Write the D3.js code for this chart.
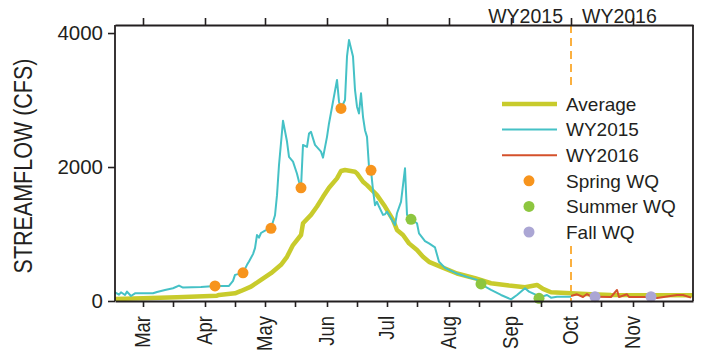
<!DOCTYPE html>
<html>
<head>
<meta charset="utf-8">
<script src="https://cdn.jsdelivr.net/npm/d3@7"></script>
<style>
body { margin: 0; background: #fff; }
svg { display: block; font-family: "Liberation Sans", Arial, sans-serif; }
</style>
</head>
<body>
<div id="gr"></div>
<script>
// daily streamflow (cfs)
var avgFlow = [
  ["2015-02-15", 30], ["2015-03-01", 40], ["2015-03-18", 55], ["2015-04-07", 80],
  ["2015-04-08", 90], ["2015-04-16", 115], ["2015-04-19", 150], ["2015-04-24", 215],
  ["2015-04-29", 315], ["2015-05-04", 415], ["2015-05-09", 540], ["2015-05-12", 660],
  ["2015-05-15", 835], ["2015-05-19", 985], ["2015-05-20", 1160], ["2015-05-24", 1285],
  ["2015-05-27", 1410], ["2015-05-30", 1555], ["2015-06-02", 1690], ["2015-06-06", 1830],
  ["2015-06-08", 1940], ["2015-06-10", 1955], ["2015-06-15", 1930], ["2015-06-16", 1905],
  ["2015-06-19", 1780], ["2015-06-21", 1730], ["2015-06-26", 1580], ["2015-06-30", 1410],
  ["2015-07-04", 1210], ["2015-07-06", 1060], ["2015-07-09", 985], ["2015-07-12", 860],
  ["2015-07-16", 760], ["2015-07-19", 660], ["2015-07-22", 585], ["2015-07-28", 510],
  ["2015-08-05", 410], ["2015-08-14", 340], ["2015-08-22", 265], ["2015-08-31", 230],
  ["2015-09-08", 205], ["2015-09-14", 240], ["2015-09-17", 180], ["2015-09-21", 130],
  ["2015-10-01", 115], ["2015-10-11", 100], ["2015-10-21", 90], ["2015-12-01", 85]
];

var wy2015 = [
  ["2015-02-15", 130], ["2015-02-17", 95], ["2015-02-18", 130], ["2015-02-20", 90],
  ["2015-02-21", 140], ["2015-02-23", 75], ["2015-02-25", 115], ["2015-03-06", 115],
  ["2015-03-08", 135], ["2015-03-12", 165], ["2015-03-16", 190], ["2015-03-19", 230],
  ["2015-03-21", 200], ["2015-03-30", 210], ["2015-04-06", 225], ["2015-04-13", 225],
  ["2015-04-15", 300], ["2015-04-16", 390], ["2015-04-20", 420], ["2015-04-22", 540],
  ["2015-04-23", 590], ["2015-04-25", 700], ["2015-04-26", 790], ["2015-04-27", 985],
  ["2015-04-28", 945], ["2015-04-29", 1015], ["2015-05-01", 1050], ["2015-05-04", 1085],
  ["2015-05-06", 1280], ["2015-05-07", 1580], ["2015-05-08", 2030], ["2015-05-10", 2690],
  ["2015-05-12", 2380], ["2015-05-13", 2150], ["2015-05-15", 2080], ["2015-05-17", 1900],
  ["2015-05-18", 1780], ["2015-05-19", 1690], ["2015-05-20", 2330], ["2015-05-22", 2300],
  ["2015-05-23", 2500], ["2015-05-24", 2525], ["2015-05-26", 2330], ["2015-05-29", 2230],
  ["2015-05-30", 2140], ["2015-06-01", 2450], ["2015-06-02", 2650], ["2015-06-04", 2975],
  ["2015-06-06", 3300], ["2015-06-07", 2975], ["2015-06-08", 2875], ["2015-06-10", 3000],
  ["2015-06-11", 3650], ["2015-06-12", 3895], ["2015-06-14", 3650], ["2015-06-15", 3150],
  ["2015-06-16", 2900], ["2015-06-17", 2800], ["2015-06-18", 3100], ["2015-06-19", 2750],
  ["2015-06-20", 2550], ["2015-06-21", 2450], ["2015-06-22", 2000], ["2015-06-23", 1950],
  ["2015-06-24", 1655], ["2015-06-25", 1430], ["2015-06-26", 1480], ["2015-06-27", 1410],
  ["2015-06-29", 1285], ["2015-06-30", 1295], ["2015-07-01", 1335], ["2015-07-03", 1235],
  ["2015-07-05", 1135], ["2015-07-06", 1310], ["2015-07-08", 1480], ["2015-07-10", 1980],
  ["2015-07-11", 1285], ["2015-07-13", 1220], ["2015-07-16", 1160], ["2015-07-17", 1010],
  ["2015-07-20", 895], ["2015-07-22", 860], ["2015-07-25", 800], ["2015-07-27", 585],
  ["2015-07-30", 495], ["2015-08-05", 410], ["2015-08-10", 360], ["2015-08-15", 315],
  ["2015-08-17", 250], ["2015-08-22", 165], ["2015-08-27", 90], ["2015-09-01", 25],
  ["2015-09-04", 90], ["2015-09-08", 190], ["2015-09-10", 140], ["2015-09-13", 100],
  ["2015-09-15", 50], ["2015-09-19", 90], ["2015-09-21", 50], ["2015-09-24", 65],
  ["2015-10-01", 65]
];

var wy2016 = [
  ["2015-10-01", 75], ["2015-10-04", 100], ["2015-10-07", 60], ["2015-10-09", 105],
  ["2015-10-11", 65], ["2015-10-13", 65], ["2015-10-21", 60], ["2015-10-24", 165],
  ["2015-10-25", 60], ["2015-10-29", 100], ["2015-10-30", 60], ["2015-11-10", 60],
  ["2015-11-13", 45], ["2015-11-23", 90], ["2015-11-26", 90], ["2015-11-30", 50]
];

var springWQ = [["2015-04-06", 225], ["2015-04-20", 420], ["2015-05-04", 1085],
  ["2015-05-19", 1690], ["2015-06-08", 2875], ["2015-06-23", 1950]];
var summerWQ = [["2015-07-13", 1220], ["2015-08-17", 255], ["2015-09-15", 40]];
var fallWQ = [["2015-10-13", 65], ["2015-11-10", 65]];

var yTicks = [0, 2000, 4000];
var legendLabels = ["Average", "WY2015", "WY2016", "Spring WQ", "Summer WQ", "Fall WQ"];

var ink = "#231f20";
var colAvg = "#c8cb2c", col15 = "#45c1c6", col16 = "#d4512b";
var colSpring = "#f7941d", colSummer = "#8dc63f", colFall = "#aba6d4";

var margin = { left: 115, top: 25, right: 9, bottom: 50 };
var width = 578, height = 276;

var parse = d3.timeParse("%Y-%m-%d");

var svg = d3.select("#gr").append("svg").
attr("width", 702).
attr("height", 351);

var g = svg.append("g").
attr("transform", "translate(" + margin.left + "," + margin.top + ")");

var xScale = d3.scaleTime().
domain([parse("2015-02-15"), parse("2015-12-01")]).
range([0, width]);

var yScale = d3.scaleLinear().domain([0, 4120]).range([height, 0]);

var months = d3.timeMonth.range(parse("2015-03-01"), parse("2015-12-01"));
var midMonths = months.map(function (m) {return d3.timeDay.offset(m, 15);});

var line = d3.line().
x(function (d) {return xScale(parse(d[0]));}).
y(function (d) {return yScale(d[1]);});

// water year split
var oct1 = xScale(parse("2015-10-01"));
g.append("line").
attr("x1", oct1).attr("x2", oct1).
attr("y1", 0).attr("y2", height).
attr("stroke", "#fbb040").
attr("stroke-width", 2).
attr("stroke-dasharray", "8,5");

g.append("path").datum(avgFlow).
attr("d", line).
attr("fill", "none").
attr("stroke", colAvg).
attr("stroke-width", 4.5).
attr("stroke-linejoin", "round");

g.append("path").datum(wy2015).
attr("d", line).
attr("fill", "none").
attr("stroke", col15).
attr("stroke-width", 2).
attr("stroke-linejoin", "round");

g.append("path").datum(wy2016).
attr("d", line).
attr("fill", "none").
attr("stroke", col16).
attr("stroke-width", 2).
attr("stroke-linejoin", "round");

function dots(data, color) {
  g.selectAll(null).
  data(data).
  enter().
  append("circle").
  attr("r", 5.5).
  attr("cx", function (d) {return xScale(parse(d[0]));}).
  attr("cy", function (d) {return yScale(d[1]);}).
  attr("fill", color);
}
dots(springWQ, colSpring);
dots(summerWQ, colSummer);
dots(fallWQ, colFall);

// axes
function styleAxis(sel) {
  sel.selectAll("path").attr("stroke", ink).attr("stroke-width", 1.8);
  sel.selectAll("line").attr("stroke", ink).attr("stroke-width", 1.6);
}

g.append("g").
attr("transform", "translate(0," + height + ")").
call(d3.axisBottom(xScale).tickValues(months.concat(midMonths)).tickSize(6).tickSizeOuter(0).tickFormat("")).
call(styleAxis);

g.append("g").
call(d3.axisTop(xScale).tickValues(months).tickSize(7).tickSizeOuter(0).tickFormat("")).
call(styleAxis);

var yAxis = g.append("g").
call(d3.axisLeft(yScale).tickValues(yTicks).tickFormat(d3.format("d")).tickSize(7).tickSizeOuter(0).tickPadding(5)).
call(styleAxis);
yAxis.select(".domain").remove();
yAxis.append("line").
attr("x1", 0).attr("x2", 0).attr("y1", 0).attr("y2", height).
attr("stroke", ink).attr("stroke-width", 1.8);
yAxis.selectAll("text").
attr("fill", ink).
style("font-size", "20.5px").
style("font-family", "'Liberation Sans', Arial, sans-serif");

g.append("line").
attr("x1", width).attr("x2", width).
attr("y1", 0).attr("y2", height).
attr("stroke", ink).attr("stroke-width", 1.8);

var fmt = d3.timeFormat("%b");
g.selectAll(".mlab").
data(months).
enter().
append("text").
attr("class", "mlab").
attr("transform", function (d) {
  return "translate(" + xScale(d) + "," + (height + 15) + ") rotate(-90) scale(1,1.2)";
}).
attr("dy", "0.3em").
attr("text-anchor", "end").
attr("fill", ink).
style("font-size", "18.5px").
text(fmt);

svg.append("text").
attr("transform", "translate(32," + (margin.top + height / 2 + 3) + ") rotate(-90) scale(1,1.2)").
attr("text-anchor", "middle").
attr("fill", ink).
style("font-size", "21.5px").
text("STREAMFLOW (CFS)");

svg.append("text").
attr("x", margin.left + oct1 - 8).
attr("y", 23).
attr("text-anchor", "end").
attr("fill", ink).
style("font-size", "19.5px").
text("WY2015");

svg.append("text").
attr("x", margin.left + oct1 + 11).
attr("y", 23).
attr("fill", ink).
style("font-size", "19.5px").
text("WY2016");

// legend
var leg = g.append("g").attr("transform", "translate(387,79)");
leg.append("rect").
attr("x", -8).attr("y", -19).
attr("width", 195).attr("height", 157).
attr("fill", "#fff");

var legColors = [colAvg, col15, col16, colSpring, colSummer, colFall];
var legWidths = [4.5, 2, 2];

var rows = leg.selectAll(".row").
data(legendLabels).
enter().
append("g").
attr("transform", function (d, i) {return "translate(0," + i * 25.6 + ")";});

rows.each(function (d, i) {
  var r = d3.select(this);
  if (i < 3) {
    r.append("line").
    attr("x1", 0).attr("x2", 55).
    attr("stroke", legColors[i]).
    attr("stroke-width", legWidths[i]);
  } else {
    r.append("circle").
    attr("cx", 27).
    attr("r", 5.5).
    attr("fill", legColors[i]);
  }
  r.append("text").
  attr("x", 64).
  attr("dy", "0.36em").
  attr("fill", ink).
  style("font-size", "19px").
  text(d);
});
</script>
</body>
</html>
